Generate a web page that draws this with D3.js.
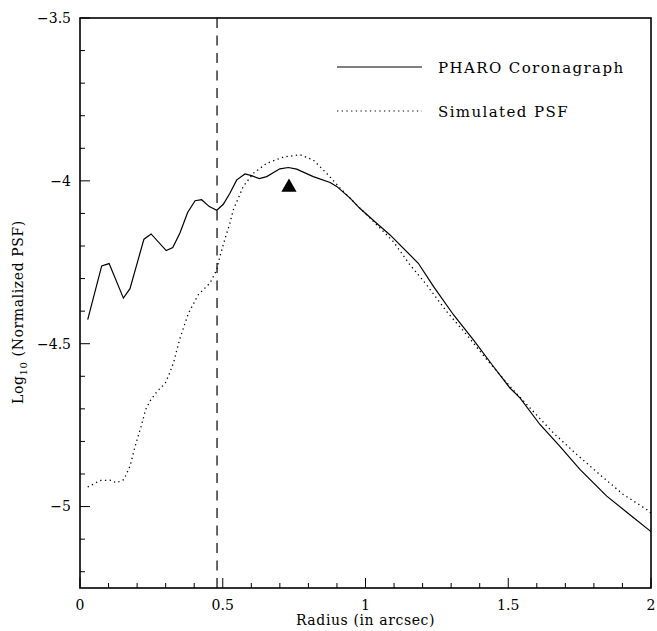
<!DOCTYPE html>
<html>
<head>
<meta charset="utf-8">
<script src="https://cdnjs.cloudflare.com/ajax/libs/d3/7.8.5/d3.min.js"></script>
<style>
  body { margin: 0; background: #fff; }
  text { font-family: "DejaVu Serif", serif; fill: #000; }
</style>
</head>
<body>
<div class="chart"></div>
<script>
// PSF radial profiles
var pharoR = [0.027, 0.076, 0.102, 0.152, 0.175, 0.224, 0.249, 0.302, 0.325, 0.350, 0.377, 0.403, 0.426, 0.453, 0.479, 0.502, 0.525, 0.549, 0.578, 0.601, 0.628, 0.654, 0.700, 0.730, 0.759, 0.817, 0.876, 0.899, 0.946, 0.981, 1.039, 1.086, 1.185, 1.238, 1.308, 1.378, 1.448, 1.506, 1.541, 1.611, 1.681, 1.751, 1.845, 1.926, 2.0];
var pharoLog = [-4.426, -4.261, -4.254, -4.360, -4.331, -4.179, -4.163, -4.214, -4.205, -4.160, -4.097, -4.061, -4.058, -4.079, -4.090, -4.072, -4.038, -3.997, -3.979, -3.984, -3.993, -3.987, -3.963, -3.959, -3.964, -3.987, -4.005, -4.017, -4.053, -4.085, -4.130, -4.166, -4.253, -4.324, -4.411, -4.488, -4.570, -4.636, -4.666, -4.748, -4.815, -4.886, -4.968, -5.025, -5.077];

var simR = [0.027, 0.070, 0.105, 0.128, 0.154, 0.175, 0.193, 0.214, 0.230, 0.248, 0.272, 0.286, 0.300, 0.315, 0.329, 0.339, 0.350, 0.380, 0.414, 0.455, 0.479, 0.490, 0.507, 0.525, 0.537, 0.572, 0.607, 0.654, 0.712, 0.771, 0.817, 0.864, 0.911, 0.957, 1.004, 1.051, 1.097, 1.156, 1.214, 1.284, 1.354, 1.425, 1.506, 1.576, 1.658, 1.740, 1.821, 1.903, 1.985, 2.0];
var simLog = [-4.940, -4.920, -4.919, -4.927, -4.917, -4.876, -4.815, -4.754, -4.702, -4.672, -4.644, -4.633, -4.619, -4.588, -4.554, -4.520, -4.484, -4.406, -4.350, -4.314, -4.273, -4.232, -4.180, -4.130, -4.089, -4.017, -3.977, -3.946, -3.927, -3.920, -3.936, -3.977, -4.022, -4.063, -4.104, -4.145, -4.186, -4.258, -4.319, -4.401, -4.472, -4.549, -4.631, -4.697, -4.774, -4.840, -4.902, -4.963, -5.009, -5.020];

var cutoffR = 0.48;
var peakMark = { r: 0.732, v: -4.02 };

var xTicks = [0, 0.5, 1, 1.5, 2];
var yTicks = [-3.5, -4, -4.5, -5];
var legendNames = ["PHARO Coronagraph", "Simulated PSF"];

var svgWidth = 657;
var svgHeight = 631;
var margin = { top: 18, right: 6, bottom: 43, left: 80 };
var width = 651 - margin.left;
var height = 588 - margin.top;

var svg = d3.select(".chart")
    .append("svg")
    .attr("width", svgWidth)
    .attr("height", svgHeight);
var chart = svg.append("g")
    .attr("transform", "translate(" + margin.left + "," + margin.top + ")");

var xScale = d3.scaleLinear().domain([0, 2]).range([0, width]);
var yScale = d3.scaleLinear().domain([-5.25, -3.5]).range([height, 0]);

// minor + major ticks
var xMinor = d3.range(0, 2.001, 0.1);
var yMinor = d3.range(-5.2, -3.49, 0.1);

chart.selectAll(".xtick")
    .data(xMinor)
    .enter()
    .append("line")
    .attr("x1", function(d) { return xScale(d); })
    .attr("x2", function(d) { return xScale(d); })
    .attr("y1", height)
    .attr("y2", function(d) {
        var major = Math.abs(d * 2 - Math.round(d * 2)) < 1e-6;
        return height - (major ? 10 : 5);
    })
    .attr("stroke", "#000")
    .attr("stroke-width", 1);

chart.selectAll(".ytick")
    .data(yMinor)
    .enter()
    .append("line")
    .attr("y1", function(d) { return yScale(d); })
    .attr("y2", function(d) { return yScale(d); })
    .attr("x1", 0)
    .attr("x2", function(d) {
        var major = Math.abs(d * 2 - Math.round(d * 2)) < 1e-6;
        return major ? 10 : 5;
    })
    .attr("stroke", "#000")
    .attr("stroke-width", 1);

// tick labels
var fmt = function(d) { return String(d).replace("-", "\u2212"); };
chart.selectAll(".xlab")
    .data(xTicks)
    .enter()
    .append("text")
    .attr("x", function(d) { return xScale(d); })
    .attr("y", height + 22)
    .attr("text-anchor", "middle")
    .style("font-size", "14px")
    .text(fmt);

chart.selectAll(".ylab")
    .data(yTicks)
    .enter()
    .append("text")
    .attr("x", -9)
    .attr("y", function(d) { return yScale(d); })
    .attr("dy", "0.35em")
    .attr("text-anchor", "end")
    .style("font-size", "14px")
    .text(fmt);

// curves
var line = d3.line()
    .x(function(d) { return xScale(d[0]); })
    .y(function(d) { return yScale(d[1]); });

chart.append("path")
    .datum(d3.zip(simR, simLog))
    .attr("d", line)
    .attr("fill", "none")
    .attr("stroke", "#000")
    .attr("stroke-width", 1.3)
    .attr("stroke-dasharray", "1.3,3.4");

chart.append("path")
    .datum(d3.zip(pharoR, pharoLog))
    .attr("d", line)
    .attr("fill", "none")
    .attr("stroke", "#000")
    .attr("stroke-width", 1.2);

// dashed cutoff line
chart.append("line")
    .attr("x1", xScale(cutoffR))
    .attr("x2", xScale(cutoffR))
    .attr("y1", 0)
    .attr("y2", height)
    .attr("stroke", "#000")
    .attr("stroke-width", 1.2)
    .attr("stroke-dasharray", "10,7.5");

// peak marker
chart.append("path")
    .attr("d", d3.symbol().type(d3.symbolTriangle).size(100))
    .attr("transform", "translate(" + xScale(peakMark.r) + "," + yScale(peakMark.v) + ")")
    .attr("fill", "#000");

// frame
chart.append("rect")
    .attr("width", width)
    .attr("height", height)
    .attr("fill", "none")
    .attr("stroke", "#000")
    .attr("stroke-width", 1.6);

// legend
var legend = chart.append("g")
    .attr("transform", "translate(" + (337 - margin.left) + "," + (67 - margin.top) + ")");
legendNames.forEach(function(name, i) {
    legend.append("line")
        .attr("x1", 0)
        .attr("x2", 85)
        .attr("y1", i * 44)
        .attr("y2", i * 44)
        .attr("stroke", "#000")
        .attr("stroke-width", 1.2)
        .attr("stroke-dasharray", i === 0 ? null : "1.3,3.4");
    legend.append("text")
        .attr("x", 101)
        .attr("y", i * 44 + 6)
        .style("font-size", "15px")
        .style("letter-spacing", "1.4px")
        .text(name);
});

// axis titles
svg.append("text")
    .attr("x", margin.left + width / 2)
    .attr("y", 625)
    .attr("text-anchor", "middle")
    .style("font-size", "14px")
    .style("letter-spacing", "0.6px")
    .text("Radius (in arcsec)");

var ylab = svg.append("text")
    .attr("transform", "translate(23," + 312 + ") rotate(-90)")
    .attr("text-anchor", "middle")
    .style("font-size", "14px")
    .style("letter-spacing", "0.6px");
ylab.append("tspan").text("Log");
ylab.append("tspan").attr("dy", 4).style("font-size", "10px").text("10");
ylab.append("tspan").attr("dy", -4).text(" (Normalized PSF)");
</script>
</body>
</html>
